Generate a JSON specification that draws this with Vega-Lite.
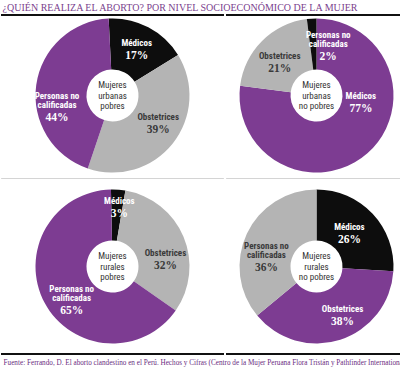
{
  "$schema": "https://vega.github.io/schema/vega-lite/v6.json",
  "padding": 0,
  "background": "white",
  "config": {"view": {"stroke": null}},
  "title": {"text": "¿QUIÉN REALIZA EL ABORTO? POR NIVEL SOCIOECONÓMICO DE LA MUJER", "anchor": "start", "font": "Liberation Serif", "fontSize": 10, "fontWeight": "normal", "color": "#7b3f8e", "offset": -9, "dx": 2, "dy": 3},
  "datasets": {
    "d": [
      {"grupo": "Mujeres\nurbanas\npobres", "cat": "Médicos", "pct": 0.17},
      {"grupo": "Mujeres\nurbanas\npobres", "cat": "Obstetrices", "pct": 0.39},
      {"grupo": "Mujeres\nurbanas\npobres", "cat": "Personas no\ncalificadas", "pct": 0.44},
      {"grupo": "Mujeres\nurbanas\nno pobres", "cat": "Médicos", "pct": 0.77},
      {"grupo": "Mujeres\nurbanas\nno pobres", "cat": "Obstetrices", "pct": 0.21},
      {"grupo": "Mujeres\nurbanas\nno pobres", "cat": "Personas no\ncalificadas", "pct": 0.02},
      {"grupo": "Mujeres\nrurales\npobres", "cat": "Médicos", "pct": 0.03},
      {"grupo": "Mujeres\nrurales\npobres", "cat": "Obstetrices", "pct": 0.32},
      {"grupo": "Mujeres\nrurales\npobres", "cat": "Personas no\ncalificadas", "pct": 0.65},
      {"grupo": "Mujeres\nrurales\nno pobres", "cat": "Médicos", "pct": 0.26},
      {"grupo": "Mujeres\nrurales\nno pobres", "cat": "Obstetrices", "pct": 0.38},
      {"grupo": "Mujeres\nrurales\nno pobres", "cat": "Personas no\ncalificadas", "pct": 0.36}
    ]
  },
  "spacing": 0,
  "resolve": {"scale": {"theta": "independent", "color": "independent"}},
  "vconcat": [
    {
      "spacing": 0,
      "hconcat": [
        {
          "width": 221, "height": 163,
          "data": {"name": "d"},
          "transform": [
            {"filter": {"field": "grupo", "equal": "Mujeres\nurbanas\npobres"}},
            {"window": [{"op": "rank", "as": "rango"}], "sort": [{"field": "pct", "order": "descending"}]}
          ],
          "layer": [
            {"mark": {"type": "rule", "color": "#111111", "strokeWidth": 2, "strokeCap": "square"}, "encoding": {"y": {"value": 1}, "x": {"value": 0}, "x2": {"value": "width"}}},
            {
              "mark": {"type": "arc", "outerRadius": 77, "innerRadius": 26},
              "encoding": {
                "theta": {"field": "pct", "type": "quantitative", "stack": true, "scale": {"range": [-0.05, 6.233]}},
                "order": {"field": "cat", "type": "nominal"},
                "color": {"field": "rango", "type": "ordinal", "scale": {"domain": [1, 2, 3], "range": ["#7d3c92", "#b4b4b4", "#0d0d0d"]}, "legend": null}
              }
            },
            {"transform": [{"filter": {"field": "cat", "equal": "Médicos"}}], "mark": {"type": "text", "lineBreak": "\n", "font": "Liberation Sans Narrow, Roboto Condensed, Arial Narrow, sans-serif", "fontSize": 9, "lineHeight": 10.5, "color": "#333333", "baseline": "middle", "dy": -10.5}, "encoding": {"text": {"field": "grupo"}}},
            {"mark": {"type": "text", "radius": 52, "baseline": "bottom", "dx": 0, "dy": -1, "lineBreak": "\n", "font": "Liberation Sans Narrow, Roboto Condensed, Arial Narrow, sans-serif", "fontWeight": "bold", "fontSize": 9, "lineHeight": 9.5}, "encoding": {"theta": {"field": "pct", "type": "quantitative", "stack": true}, "order": {"field": "cat", "type": "nominal"}, "text": {"condition": {"test": "datum.cat === 'Médicos'", "field": "cat"}, "value": ""}, "color": {"condition": {"test": "datum.rango === 2", "value": "#3a3a3a"}, "value": "white"}}},
            {"mark": {"type": "text", "radius": 52, "baseline": "top", "dx": 0, "dy": 1, "font": "Liberation Serif", "fontWeight": "bold", "fontSize": 11.5}, "encoding": {"theta": {"field": "pct", "type": "quantitative", "stack": true}, "order": {"field": "cat", "type": "nominal"}, "text": {"condition": {"test": "datum.cat === 'Médicos'", "field": "pct", "type": "quantitative", "format": ".0%"}, "value": ""}, "color": {"condition": {"test": "datum.rango === 2", "value": "#3a3a3a"}, "value": "white"}}},
            {"mark": {"type": "text", "radius": 52, "baseline": "bottom", "dx": 5, "dy": -6, "lineBreak": "\n", "font": "Liberation Sans Narrow, Roboto Condensed, Arial Narrow, sans-serif", "fontWeight": "bold", "fontSize": 9, "lineHeight": 9.5}, "encoding": {"theta": {"field": "pct", "type": "quantitative", "stack": true}, "order": {"field": "cat", "type": "nominal"}, "text": {"condition": {"test": "datum.cat === 'Obstetrices'", "field": "cat"}, "value": ""}, "color": {"condition": {"test": "datum.rango === 2", "value": "#3a3a3a"}, "value": "white"}}},
            {"mark": {"type": "text", "radius": 52, "baseline": "top", "dx": 5, "dy": -4, "font": "Liberation Serif", "fontWeight": "bold", "fontSize": 11.5}, "encoding": {"theta": {"field": "pct", "type": "quantitative", "stack": true}, "order": {"field": "cat", "type": "nominal"}, "text": {"condition": {"test": "datum.cat === 'Obstetrices'", "field": "pct", "type": "quantitative", "format": ".0%"}, "value": ""}, "color": {"condition": {"test": "datum.rango === 2", "value": "#3a3a3a"}, "value": "white"}}},
            {"mark": {"type": "text", "radius": 52, "baseline": "bottom", "dx": -4, "dy": 12.5, "lineBreak": "\n", "font": "Liberation Sans Narrow, Roboto Condensed, Arial Narrow, sans-serif", "fontWeight": "bold", "fontSize": 9, "lineHeight": 9.5}, "encoding": {"theta": {"field": "pct", "type": "quantitative", "stack": true}, "order": {"field": "cat", "type": "nominal"}, "text": {"condition": {"test": "indexof(datum.cat, 'Personas') === 0", "field": "cat"}, "value": ""}, "color": {"condition": {"test": "datum.rango === 2", "value": "#3a3a3a"}, "value": "white"}}},
            {"mark": {"type": "text", "radius": 52, "baseline": "top", "dx": -4, "dy": 24, "font": "Liberation Serif", "fontWeight": "bold", "fontSize": 11.5}, "encoding": {"theta": {"field": "pct", "type": "quantitative", "stack": true}, "order": {"field": "cat", "type": "nominal"}, "text": {"condition": {"test": "indexof(datum.cat, 'Personas') === 0", "field": "pct", "type": "quantitative", "format": ".0%"}, "value": ""}, "color": {"condition": {"test": "datum.rango === 2", "value": "#3a3a3a"}, "value": "white"}}}
          ]
        },
        {
          "width": 179, "height": 163,
          "data": {"name": "d"},
          "transform": [
            {"filter": {"field": "grupo", "equal": "Mujeres\nurbanas\nno pobres"}},
            {"window": [{"op": "rank", "as": "rango"}], "sort": [{"field": "pct", "order": "descending"}]}
          ],
          "layer": [
            {"mark": {"type": "rule", "color": "#111111", "strokeWidth": 2, "strokeCap": "square"}, "encoding": {"y": {"value": 1}, "x": {"value": 0}, "x2": {"value": "width"}}},
            {
              "mark": {"type": "arc", "outerRadius": 77, "innerRadius": 26},
              "encoding": {
                "theta": {"field": "pct", "type": "quantitative", "stack": true, "scale": {"range": [0, 6.2832]}},
                "order": {"field": "cat", "type": "nominal"},
                "color": {"field": "rango", "type": "ordinal", "scale": {"domain": [1, 2, 3], "range": ["#7d3c92", "#b4b4b4", "#0d0d0d"]}, "legend": null}
              }
            },
            {"transform": [{"filter": {"field": "cat", "equal": "Médicos"}}], "mark": {"type": "text", "lineBreak": "\n", "font": "Liberation Sans Narrow, Roboto Condensed, Arial Narrow, sans-serif", "fontSize": 9, "lineHeight": 10.5, "color": "#333333", "baseline": "middle", "dy": -10.5}, "encoding": {"text": {"field": "grupo"}}},
            {"mark": {"type": "text", "radius": 52, "baseline": "bottom", "dx": 10, "dy": -34, "lineBreak": "\n", "font": "Liberation Sans Narrow, Roboto Condensed, Arial Narrow, sans-serif", "fontWeight": "bold", "fontSize": 9, "lineHeight": 9.5}, "encoding": {"theta": {"field": "pct", "type": "quantitative", "stack": true}, "order": {"field": "cat", "type": "nominal"}, "text": {"condition": {"test": "datum.cat === 'Médicos'", "field": "cat"}, "value": ""}, "color": {"condition": {"test": "datum.rango === 2", "value": "#3a3a3a"}, "value": "white"}}},
            {"mark": {"type": "text", "radius": 52, "baseline": "top", "dx": 10, "dy": -32, "font": "Liberation Serif", "fontWeight": "bold", "fontSize": 11.5}, "encoding": {"theta": {"field": "pct", "type": "quantitative", "stack": true}, "order": {"field": "cat", "type": "nominal"}, "text": {"condition": {"test": "datum.cat === 'Médicos'", "field": "pct", "type": "quantitative", "format": ".0%"}, "value": ""}, "color": {"condition": {"test": "datum.rango === 2", "value": "#3a3a3a"}, "value": "white"}}},
            {"mark": {"type": "text", "radius": 52, "baseline": "bottom", "dx": 0, "dy": 2, "lineBreak": "\n", "font": "Liberation Sans Narrow, Roboto Condensed, Arial Narrow, sans-serif", "fontWeight": "bold", "fontSize": 9, "lineHeight": 9.5}, "encoding": {"theta": {"field": "pct", "type": "quantitative", "stack": true}, "order": {"field": "cat", "type": "nominal"}, "text": {"condition": {"test": "datum.cat === 'Obstetrices'", "field": "cat"}, "value": ""}, "color": {"condition": {"test": "datum.rango === 2", "value": "#3a3a3a"}, "value": "white"}}},
            {"mark": {"type": "text", "radius": 52, "baseline": "top", "dx": 0, "dy": 4, "font": "Liberation Serif", "fontWeight": "bold", "fontSize": 11.5}, "encoding": {"theta": {"field": "pct", "type": "quantitative", "stack": true}, "order": {"field": "cat", "type": "nominal"}, "text": {"condition": {"test": "datum.cat === 'Obstetrices'", "field": "pct", "type": "quantitative", "format": ".0%"}, "value": ""}, "color": {"condition": {"test": "datum.rango === 2", "value": "#3a3a3a"}, "value": "white"}}},
            {"mark": {"type": "text", "radius": 52, "baseline": "bottom", "dx": 15, "dy": -4, "lineBreak": "\n", "font": "Liberation Sans Narrow, Roboto Condensed, Arial Narrow, sans-serif", "fontWeight": "bold", "fontSize": 9, "lineHeight": 9.5}, "encoding": {"theta": {"field": "pct", "type": "quantitative", "stack": true}, "order": {"field": "cat", "type": "nominal"}, "text": {"condition": {"test": "indexof(datum.cat, 'Personas') === 0", "field": "cat"}, "value": ""}, "color": {"condition": {"test": "datum.rango === 2", "value": "#3a3a3a"}, "value": "white"}}},
            {"mark": {"type": "text", "radius": 52, "baseline": "top", "dx": 15, "dy": 7.5, "font": "Liberation Serif", "fontWeight": "bold", "fontSize": 11.5}, "encoding": {"theta": {"field": "pct", "type": "quantitative", "stack": true}, "order": {"field": "cat", "type": "nominal"}, "text": {"condition": {"test": "indexof(datum.cat, 'Personas') === 0", "field": "pct", "type": "quantitative", "format": ".0%"}, "value": ""}, "color": {"condition": {"test": "datum.rango === 2", "value": "#3a3a3a"}, "value": "white"}}}
          ]
        }
      ]
    },
    {
      "spacing": 0,
      "title": {"text": "Fuente: Ferrando, D. El aborto clandestino en el Perú. Hechos y Cifras (Centro de la Mujer Peruana Flora Tristán y Pathfinder International, 2002).", "orient": "bottom", "anchor": "start", "font": "Liberation Serif", "fontSize": 7.2, "fontWeight": "normal", "color": "#6a2c80", "offset": 4, "dx": 3},
      "hconcat": [
        {
          "width": 221, "height": 177,
          "data": {"name": "d"},
          "transform": [
            {"filter": {"field": "grupo", "equal": "Mujeres\nrurales\npobres"}},
            {"window": [{"op": "rank", "as": "rango"}], "sort": [{"field": "pct", "order": "descending"}]}
          ],
          "layer": [
            {"mark": {"type": "rule", "color": "#d4d4d4", "strokeWidth": 1, "strokeCap": "square"}, "encoding": {"y": {"value": 0.5}, "x": {"value": 0}, "x2": {"value": "width"}}},
            {"mark": {"type": "rule", "color": "#111111", "strokeWidth": 2, "strokeCap": "square"}, "encoding": {"y": {"value": 176}, "x": {"value": 0}, "x2": {"value": "width"}}},
            {
              "mark": {"type": "arc", "outerRadius": 77, "innerRadius": 26},
              "encoding": {
                "theta": {"field": "pct", "type": "quantitative", "stack": true, "scale": {"range": [-0.02, 6.263]}},
                "order": {"field": "cat", "type": "nominal"},
                "color": {"field": "rango", "type": "ordinal", "scale": {"domain": [1, 2, 3], "range": ["#7d3c92", "#b4b4b4", "#0d0d0d"]}, "legend": null}
              }
            },
            {"transform": [{"filter": {"field": "cat", "equal": "Médicos"}}], "mark": {"type": "text", "lineBreak": "\n", "font": "Liberation Sans Narrow, Roboto Condensed, Arial Narrow, sans-serif", "fontSize": 9, "lineHeight": 10.5, "color": "#333333", "baseline": "middle", "dy": -10.5}, "encoding": {"text": {"field": "grupo"}}},
            {"mark": {"type": "text", "radius": 52, "baseline": "bottom", "dx": 3, "dy": -9, "lineBreak": "\n", "font": "Liberation Sans Narrow, Roboto Condensed, Arial Narrow, sans-serif", "fontWeight": "bold", "fontSize": 9, "lineHeight": 9.5}, "encoding": {"theta": {"field": "pct", "type": "quantitative", "stack": true}, "order": {"field": "cat", "type": "nominal"}, "text": {"condition": {"test": "datum.cat === 'Médicos'", "field": "cat"}, "value": ""}, "color": {"condition": {"test": "datum.rango === 2", "value": "#3a3a3a"}, "value": "white"}}},
            {"mark": {"type": "text", "radius": 52, "baseline": "top", "dx": 3, "dy": -7, "font": "Liberation Serif", "fontWeight": "bold", "fontSize": 11.5}, "encoding": {"theta": {"field": "pct", "type": "quantitative", "stack": true}, "order": {"field": "cat", "type": "nominal"}, "text": {"condition": {"test": "datum.cat === 'Médicos'", "field": "pct", "type": "quantitative", "format": ".0%"}, "value": ""}, "color": {"condition": {"test": "datum.rango === 2", "value": "#3a3a3a"}, "value": "white"}}},
            {"mark": {"type": "text", "radius": 52, "baseline": "bottom", "dx": 5, "dy": 12, "lineBreak": "\n", "font": "Liberation Sans Narrow, Roboto Condensed, Arial Narrow, sans-serif", "fontWeight": "bold", "fontSize": 9, "lineHeight": 9.5}, "encoding": {"theta": {"field": "pct", "type": "quantitative", "stack": true}, "order": {"field": "cat", "type": "nominal"}, "text": {"condition": {"test": "datum.cat === 'Obstetrices'", "field": "cat"}, "value": ""}, "color": {"condition": {"test": "datum.rango === 2", "value": "#3a3a3a"}, "value": "white"}}},
            {"mark": {"type": "text", "radius": 52, "baseline": "top", "dx": 5, "dy": 14, "font": "Liberation Serif", "fontWeight": "bold", "fontSize": 11.5}, "encoding": {"theta": {"field": "pct", "type": "quantitative", "stack": true}, "order": {"field": "cat", "type": "nominal"}, "text": {"condition": {"test": "datum.cat === 'Obstetrices'", "field": "pct", "type": "quantitative", "format": ".0%"}, "value": ""}, "color": {"condition": {"test": "datum.rango === 2", "value": "#3a3a3a"}, "value": "white"}}},
            {"mark": {"type": "text", "radius": 52, "baseline": "bottom", "dx": 5, "dy": 2.5, "lineBreak": "\n", "font": "Liberation Sans Narrow, Roboto Condensed, Arial Narrow, sans-serif", "fontWeight": "bold", "fontSize": 9, "lineHeight": 9.5}, "encoding": {"theta": {"field": "pct", "type": "quantitative", "stack": true}, "order": {"field": "cat", "type": "nominal"}, "text": {"condition": {"test": "indexof(datum.cat, 'Personas') === 0", "field": "cat"}, "value": ""}, "color": {"condition": {"test": "datum.rango === 2", "value": "#3a3a3a"}, "value": "white"}}},
            {"mark": {"type": "text", "radius": 52, "baseline": "top", "dx": 5, "dy": 14, "font": "Liberation Serif", "fontWeight": "bold", "fontSize": 11.5}, "encoding": {"theta": {"field": "pct", "type": "quantitative", "stack": true}, "order": {"field": "cat", "type": "nominal"}, "text": {"condition": {"test": "indexof(datum.cat, 'Personas') === 0", "field": "pct", "type": "quantitative", "format": ".0%"}, "value": ""}, "color": {"condition": {"test": "datum.rango === 2", "value": "#3a3a3a"}, "value": "white"}}}
          ]
        },
        {
          "width": 179, "height": 177,
          "data": {"name": "d"},
          "transform": [
            {"filter": {"field": "grupo", "equal": "Mujeres\nrurales\nno pobres"}},
            {"window": [{"op": "rank", "as": "rango"}], "sort": [{"field": "pct", "order": "descending"}]}
          ],
          "layer": [
            {"mark": {"type": "rule", "color": "#d4d4d4", "strokeWidth": 1, "strokeCap": "square"}, "encoding": {"y": {"value": 0.5}, "x": {"value": 0}, "x2": {"value": "width"}}},
            {"mark": {"type": "rule", "color": "#111111", "strokeWidth": 2, "strokeCap": "square"}, "encoding": {"y": {"value": 176}, "x": {"value": 0}, "x2": {"value": "width"}}},
            {
              "mark": {"type": "arc", "outerRadius": 77, "innerRadius": 26},
              "encoding": {
                "theta": {"field": "pct", "type": "quantitative", "stack": true, "scale": {"range": [0, 6.2832]}},
                "order": {"field": "cat", "type": "nominal"},
                "color": {"field": "rango", "type": "ordinal", "scale": {"domain": [1, 2, 3], "range": ["#7d3c92", "#b4b4b4", "#0d0d0d"]}, "legend": null}
              }
            },
            {"transform": [{"filter": {"field": "cat", "equal": "Médicos"}}], "mark": {"type": "text", "lineBreak": "\n", "font": "Liberation Sans Narrow, Roboto Condensed, Arial Narrow, sans-serif", "fontSize": 9, "lineHeight": 10.5, "color": "#333333", "baseline": "middle", "dy": -10.5}, "encoding": {"text": {"field": "grupo"}}},
            {"mark": {"type": "text", "radius": 52, "baseline": "bottom", "dx": -5, "dy": 1, "lineBreak": "\n", "font": "Liberation Sans Narrow, Roboto Condensed, Arial Narrow, sans-serif", "fontWeight": "bold", "fontSize": 9, "lineHeight": 9.5}, "encoding": {"theta": {"field": "pct", "type": "quantitative", "stack": true}, "order": {"field": "cat", "type": "nominal"}, "text": {"condition": {"test": "datum.cat === 'Médicos'", "field": "cat"}, "value": ""}, "color": {"condition": {"test": "datum.rango === 2", "value": "#3a3a3a"}, "value": "white"}}},
            {"mark": {"type": "text", "radius": 52, "baseline": "top", "dx": -5, "dy": 3, "font": "Liberation Serif", "fontWeight": "bold", "fontSize": 11.5}, "encoding": {"theta": {"field": "pct", "type": "quantitative", "stack": true}, "order": {"field": "cat", "type": "nominal"}, "text": {"condition": {"test": "datum.cat === 'Médicos'", "field": "pct", "type": "quantitative", "format": ".0%"}, "value": ""}, "color": {"condition": {"test": "datum.rango === 2", "value": "#3a3a3a"}, "value": "white"}}},
            {"mark": {"type": "text", "radius": 52, "baseline": "bottom", "dx": 10, "dy": -2, "lineBreak": "\n", "font": "Liberation Sans Narrow, Roboto Condensed, Arial Narrow, sans-serif", "fontWeight": "bold", "fontSize": 9, "lineHeight": 9.5}, "encoding": {"theta": {"field": "pct", "type": "quantitative", "stack": true}, "order": {"field": "cat", "type": "nominal"}, "text": {"condition": {"test": "datum.cat === 'Obstetrices'", "field": "cat"}, "value": ""}, "color": {"condition": {"test": "datum.rango === 2", "value": "#3a3a3a"}, "value": "white"}}},
            {"mark": {"type": "text", "radius": 52, "baseline": "top", "dx": 10, "dy": 0, "font": "Liberation Serif", "fontWeight": "bold", "fontSize": 11.5}, "encoding": {"theta": {"field": "pct", "type": "quantitative", "stack": true}, "order": {"field": "cat", "type": "nominal"}, "text": {"condition": {"test": "datum.cat === 'Obstetrices'", "field": "pct", "type": "quantitative", "format": ".0%"}, "value": ""}, "color": {"condition": {"test": "datum.rango === 2", "value": "#3a3a3a"}, "value": "white"}}},
            {"mark": {"type": "text", "radius": 52, "baseline": "bottom", "dx": -3, "dy": 6.5, "lineBreak": "\n", "font": "Liberation Sans Narrow, Roboto Condensed, Arial Narrow, sans-serif", "fontWeight": "bold", "fontSize": 9, "lineHeight": 9.5}, "encoding": {"theta": {"field": "pct", "type": "quantitative", "stack": true}, "order": {"field": "cat", "type": "nominal"}, "text": {"condition": {"test": "indexof(datum.cat, 'Personas') === 0", "field": "cat"}, "value": ""}, "color": {"condition": {"test": "datum.rango === 2", "value": "#3a3a3a"}, "value": "white"}}},
            {"mark": {"type": "text", "radius": 52, "baseline": "top", "dx": -3, "dy": 18, "font": "Liberation Serif", "fontWeight": "bold", "fontSize": 11.5}, "encoding": {"theta": {"field": "pct", "type": "quantitative", "stack": true}, "order": {"field": "cat", "type": "nominal"}, "text": {"condition": {"test": "indexof(datum.cat, 'Personas') === 0", "field": "pct", "type": "quantitative", "format": ".0%"}, "value": ""}, "color": {"condition": {"test": "datum.rango === 2", "value": "#3a3a3a"}, "value": "white"}}}
          ]
        }
      ]
    }
  ]
}
